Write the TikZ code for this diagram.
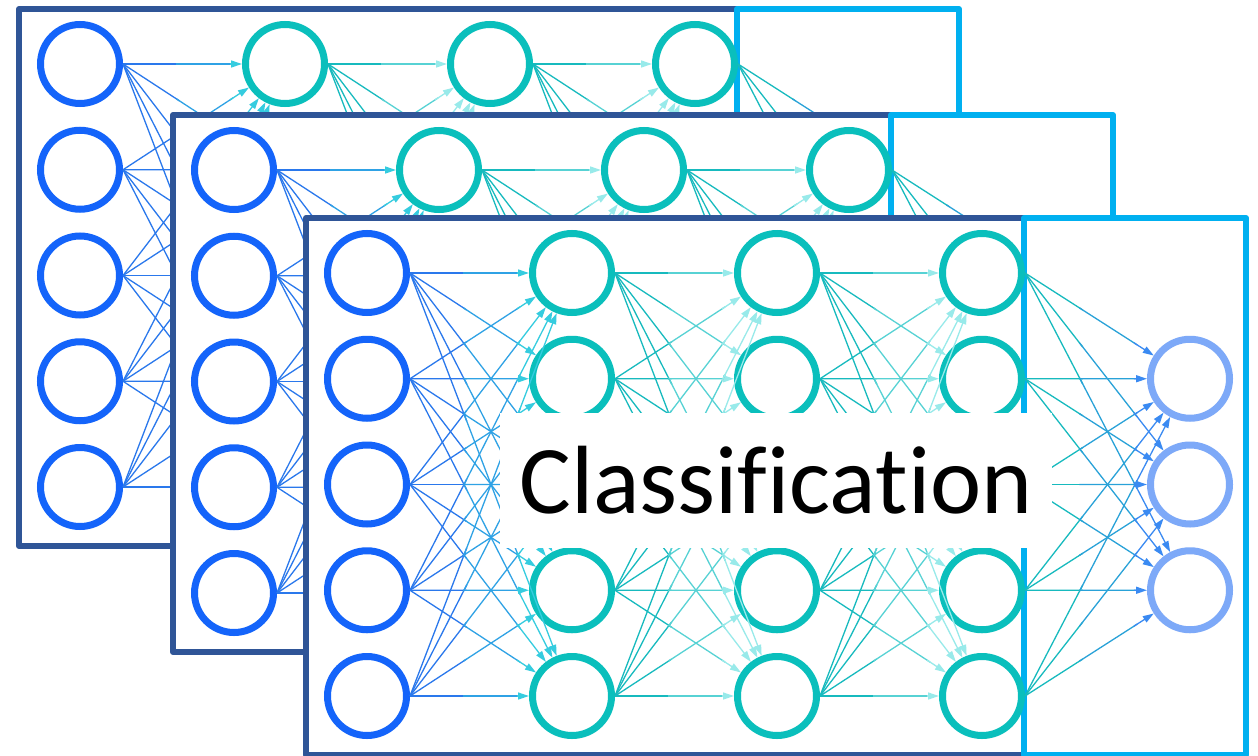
\documentclass[tikz,border=0pt]{standalone}
\usepackage{fontspec}
\setmainfont{Carlito}[Ligatures=NoCommon]
\usepackage{xcolor}
\usepackage{tikz}
\usetikzlibrary{arrows.meta,calc}

\definecolor{inblue}{HTML}{1464FA}
\definecolor{hidteal}{HTML}{0ABFBC}
\definecolor{outblue}{HTML}{7DA9F8}
\definecolor{paneldark}{HTML}{2F5597}
\definecolor{panellight}{HTML}{00B0F0}
\definecolor{wireblue}{HTML}{2A78EC}
\definecolor{wirecyan}{HTML}{35CCDF}
\definecolor{wireteal}{HTML}{17BABE}
\definecolor{wirepale}{HTML}{98EAEA}
\definecolor{wireout}{HTML}{3A8AF2}

\tikzset{neuron/.style={circle,draw,fill=white,line width=7pt,minimum size=79pt,inner sep=0pt},
    innode/.style={neuron,draw=inblue},
    hidnode/.style={neuron,draw=hidteal},
    outnode/.style={neuron,draw=outblue},
    darkbox/.style={draw=paneldark,fill=white,line width=6pt,line join=round},
    lightbox/.style={draw=panellight,fill=white,line width=6pt,line join=round},
    wire/.style={line width=1.3pt},
    arrowwire/.style={wire,-{Triangle[length=11pt,width=7pt]}},
    headbox/.style={fill=white,inner sep=0pt,minimum width=552pt,minimum height=135pt}}

% one weight: fades from the sender colour to the receiver colour
\newcommand\synapse[4]{%
    \draw[wire,#3] (#1.east) -- ($(#1.east)!0.35!(#2)$);
    \draw[wire,#3!50!#4] ($(#1.east)!0.33!(#2)$) -- ($(#1.east)!0.68!(#2)$);
    \draw[arrowwire,#4] ($(#1.east)!0.66!(#2)$) -- (#2);
}

% one network: frames, neurons and all weights
\newcommand\drawpanel[3]{%
    \begin{scope}[shift={(#2,#3)}]
        % frames
        \draw[darkbox] (0,0) rectangle (718,537);
        \draw[lightbox] (718,0) rectangle (940,537);
        % neurons
        \foreach \row in {1,...,5}{
            \node[innode] (n#1-in\row) at (61,{55+105.75*(\row-1)}) {};
            \node[hidnode] (n#1-ha\row) at (266,{55+105.75*(\row-1)}) {};
            \node[hidnode] (n#1-hb\row) at (471,{55+105.75*(\row-1)}) {};
            \node[hidnode] (n#1-hc\row) at (676,{55+105.75*(\row-1)}) {};
        }
        \foreach \row in {1,2,3}
            \node[outnode] (n#1-out\row) at (884,{55+105.75*\row}) {};
        % weights
        \foreach \src in {1,...,5}{
            \foreach \dst in {1,...,5}{
                \synapse{n#1-in\src}{n#1-ha\dst}{wireblue}{wirecyan}
                \synapse{n#1-ha\src}{n#1-hb\dst}{wireteal}{wirepale}
                \synapse{n#1-hb\src}{n#1-hc\dst}{wireteal}{wirepale}
            }
            \foreach \dst in {1,2,3}{
                \synapse{n#1-hc\src}{n#1-out\dst}{wireteal}{wireout}
            }
        }
    \end{scope}
}

\begin{document}
\begin{tikzpicture}[x=1pt,y=-1pt]
    \useasboundingbox (0,0) rectangle (1258,755);
    \drawpanel{a}{19}{9}
    \drawpanel{b}{173}{115}
    \drawpanel{c}{306}{218}
    \node[headbox] (heading) at (776,480) {\fontsize{97}{97}\selectfont Classification};
\end{tikzpicture}
\end{document}
